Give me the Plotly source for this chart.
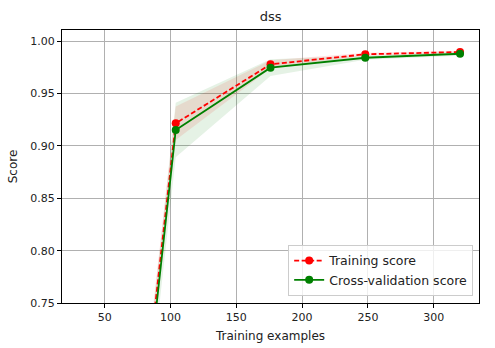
import plotly.graph_objects as go

train_sizes = [32, 104, 176, 248, 320]
train_mean = [0.12, 0.9216, 0.978, 0.9876, 0.9898]
train_std = [0.02, 0.016, 0.004, 0.0015, 0.0012]
cv_mean = [0.09, 0.9152, 0.9748, 0.9843, 0.9881]
cv_std = [0.02, 0.026, 0.008, 0.002, 0.002]

font = "DejaVu Sans"
fig = go.Figure()

def band(x, m, s, color):
    up = [a + b for a, b in zip(m, s)]
    lo = [a - b for a, b in zip(m, s)]
    fig.add_trace(go.Scatter(x=x + x[::-1], y=up + lo[::-1], fill="toself",
                             fillcolor=color, line=dict(width=0), mode="lines",
                             hoverinfo="skip", showlegend=False))

band(train_sizes, train_mean, train_std, "rgba(255,0,0,0.1)")
band(train_sizes, cv_mean, cv_std, "rgba(0,128,0,0.1)")

fig.add_trace(go.Scatter(x=train_sizes, y=train_mean, mode="lines+markers",
                         name="Training score",
                         line=dict(color="red", width=1.8, dash="5px,2.5px"),
                         marker=dict(color="red", size=8)))
fig.add_trace(go.Scatter(x=train_sizes, y=cv_mean, mode="lines+markers",
                         name="Cross-validation score",
                         line=dict(color="green", width=1.8),
                         marker=dict(color="green", size=8)))

axis_common = dict(showline=True, linecolor="black", linewidth=1, mirror=True,
                   ticks="outside", ticklen=4, tickcolor="black",
                   showgrid=True, gridcolor="#b0b0b0", gridwidth=1, automargin=False,
                   zeroline=False, tickfont=dict(family=font, size=11, color="#222"))

fig.update_layout(
    width=495, height=348,
    margin=dict(l=62, r=16, t=30, b=45),
    paper_bgcolor="white", plot_bgcolor="white",
    title=dict(text="dss", x=0.547, xanchor="center", y=0.953, yanchor="middle",
               font=dict(family=font, size=13, color="#222")),
    xaxis=dict(range=[17.6, 334.4], tickvals=[50, 100, 150, 200, 250, 300],
               title=dict(text="Training examples", font=dict(family=font, size=12, color="#222"),
                          standoff=8),
               **axis_common),
    yaxis=dict(range=[0.75, 1.0108], tickvals=[0.75, 0.80, 0.85, 0.90, 0.95, 1.00],
               tickformat=".2f",
               title=dict(text="Score", font=dict(family=font, size=12, color="#222"),
                          standoff=10),
               **axis_common),
    legend=dict(x=0.986, y=0.026, xanchor="right", yanchor="bottom",
                bgcolor="rgba(255,255,255,0.8)", bordercolor="#cccccc", borderwidth=1,
                font=dict(family=font, size=12.5, color="#222"),
                tracegroupgap=0, itemwidth=30),
)

fig.write_html("out.html")
